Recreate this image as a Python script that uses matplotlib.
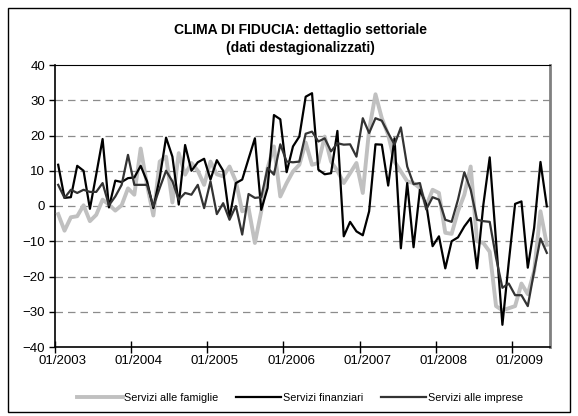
import matplotlib
matplotlib.use("Agg")
import matplotlib.pyplot as plt
from matplotlib.patches import Rectangle
import numpy as np
import pandas as pd

# monthly series, 01/2003 - 06/2009
months = pd.period_range("2003-01", periods=78, freq="M")

famiglie = [
    -2.3, -7.0, -3.2, -2.9, 0.2, -4.3, -2.5, 1.8, 0.4, -1.3, 0.2, 5.0,
    3.2, 16.3, 6.0, -2.7, 12.6, 14.0, 1.0, 15.0, 8.9, 12.2, 10.0, 6.0,
    12.6, 9.0, 8.4, 11.2, 7.0, -1.5, -0.6, -10.5, -1.5, 10.8, 16.9, 2.7,
    6.5, 9.8, 11.7, 18.0, 11.7, 12.2, 19.7, 12.6, 10.0, 6.5, 9.3, 12.2,
    3.7, 21.6, 31.7, 24.9, 20.2, 12.6, 9.8, 7.0, 6.5, 5.1, 0.0, 4.6,
    3.7, -7.6, -7.9, -1.5, 3.2, 11.2, -10.0, -10.5, -13.0, -28.4, -29.6, -29.0,
    -28.4, -22.0, -25.0, -18.5, -1.5, -11.0,
]
finanziari = [
    11.7, 2.3, 2.5, 11.4, 10.0, -0.8, 9.0, 19.0, -0.4, 7.2, 6.8, 7.9,
    8.1, 11.4, 7.0, -0.6, 8.0, 19.4, 14.0, 0.4, 17.3, 10.0, 12.4, 13.4,
    7.5, 13.0, 10.0, -3.4, 6.5, 7.5, 13.4, 19.2, -1.1, 5.1, 25.8, 24.6,
    9.6, 16.9, 19.7, 31.0, 32.0, 10.3, 9.0, 9.3, 21.3, -8.6, -4.5, -7.2,
    -8.3, -1.5, 17.5, 17.4, 5.8, 19.2, -12.0, 6.5, -11.7, 4.6, 0.5, -11.4,
    -8.6, -17.7, -10.0, -8.9, -5.8, -3.4, -17.7, 0.4, 13.8, -10.0, -33.7, -16.0,
    0.6, 1.3, -17.5, -6.2, 12.5, -0.1,
]
imprese = [
    6.0, 2.3, 4.6, 3.7, 4.6, 4.0, 4.0, 6.5, 0.2, 2.7, 6.0, 14.5,
    6.0, 6.0, 6.0, -0.1, 5.1, 10.0, 7.0, 1.8, 3.7, 3.2, 6.0, -0.6,
    7.0, -2.3, 0.8, -3.9, 0.0, -8.1, 3.4, 2.3, 2.5, 10.8, 8.9, 17.5,
    12.6, 12.4, 12.6, 20.5, 21.1, 18.3, 19.2, 15.5, 17.8, 17.4, 17.5, 14.0,
    24.9, 20.7, 24.9, 24.2, 20.7, 17.4, 22.3, 11.2, 6.2, 6.5, -1.0, 2.5,
    1.8, -3.9, -4.5, 1.8, 9.6, 4.6, -3.9, -4.3, -4.5, -14.7, -23.2, -22.0,
    -25.3, -25.3, -28.4, -18.5, -9.2, -13.3,
]

y_ticks = list(range(-40, 41, 10))

plt.rcParams["font.family"] = ["Liberation Sans", "DejaVu Sans"]

W, H = 578, 416
fig = plt.figure(figsize=(W / 100, H / 100), dpi=100)
ax = fig.add_axes([55 / W, 1 - 347 / H, 495 / W, 282 / H])

x = np.arange(len(months))
ax.plot(x, famiglie, color="#c0c0c0", lw=2.8, label="Servizi alle famiglie", zorder=3)
ax.plot(x, finanziari, color="black", lw=1.6, label="Servizi finanziari", zorder=4)
ax.plot(x, imprese, color="#333333", lw=1.6, label="Servizi alle imprese", zorder=5)

ax.set_xlim(-0.5, len(x) - 0.5)
ax.set_ylim(-40, 40)
ax.set_yticks(y_ticks)
ax.tick_params(axis="y", direction="out", length=4, width=1, labelsize=9.5, pad=3)
for v in y_ticks[1:-1]:
    ax.axhline(v, color="#8c8c8c", lw=0.9, ls=(0, (6, 4)), zorder=1)

# year ticks at the month boundaries, labels next to them
jan = [i for i, m in enumerate(months) if m.month == 1]
ax.set_xticks([i - 0.5 for i in jan])
ax.set_xticklabels([])
ax.tick_params(axis="x", which="major", direction="inout", length=8, width=1)
ax.set_xticks([i + 0.7 for i in jan], minor=True)
ax.set_xticklabels([m.strftime("%m/%Y") for m in months[jan]], minor=True)
ax.tick_params(axis="x", which="minor", length=0, labelsize=9.5, pad=6)

for side in ("left", "bottom"):
    ax.spines[side].set_linewidth(1.2)
ax.spines["top"].set_linewidth(0.8)
ax.spines["right"].set_color("#808080")
ax.spines["right"].set_linewidth(2)

fig.text(300 / W, 1 - 30 / H, "CLIMA DI FIDUCIA: dettaglio settoriale",
         ha="center", va="center", fontsize=10, fontweight="bold")
fig.text(300 / W, 1 - 48 / H, "(dati destagionalizzati)",
         ha="center", va="center", fontsize=10, fontweight="bold")

fig.legend(loc="center", bbox_to_anchor=(300 / W, 1 - 398 / H), ncol=3, frameon=False,
           fontsize=7.8, handlelength=4.2, handletextpad=0.15, columnspacing=1.6)

fig.patches.append(Rectangle((8 / W, 4 / H), 562 / W, 404 / H, transform=fig.transFigure,
                             fill=False, lw=1, ec="black"))

fig.savefig("out.png", dpi=100)
